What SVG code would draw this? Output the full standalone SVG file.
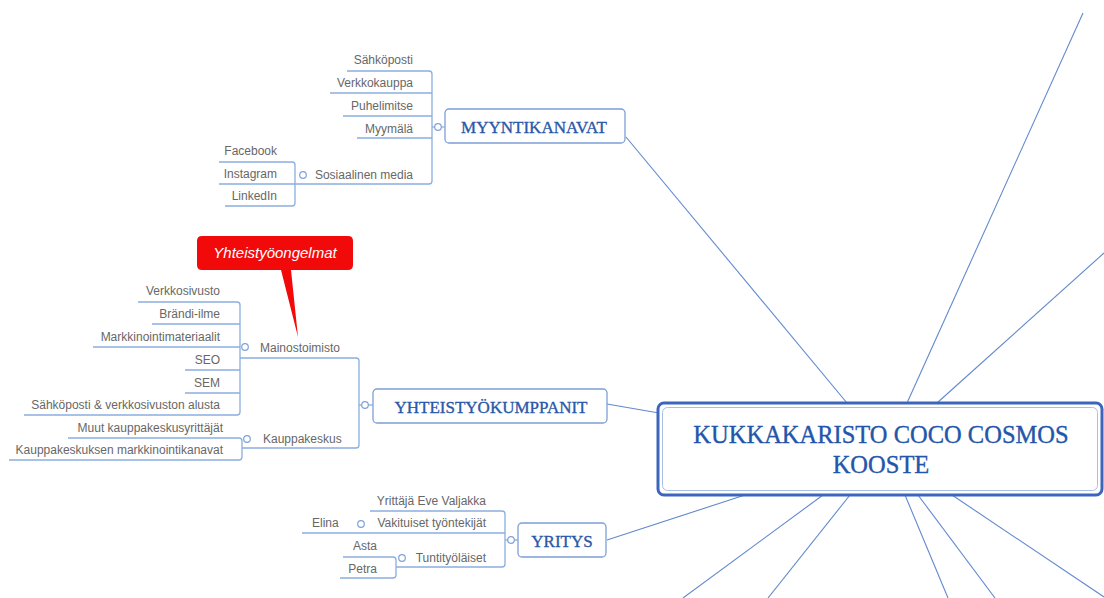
<svg xmlns="http://www.w3.org/2000/svg" width="1104" height="598" viewBox="0 0 1104 598">
  <style>
    .spoke { stroke: #6189cf; stroke-width: 1.1; fill: none; }
    .br { stroke: #8aaede; stroke-width: 1.3; fill: none; }
    .dot { stroke: #7fa2d8; stroke-width: 1.2; fill: #fff; }
    .leaf { font-family: "Liberation Sans", Arial, sans-serif; font-size: 12px; fill: #676767; text-anchor: end; }
    .leafL { font-family: "Liberation Sans", Arial, sans-serif; font-size: 12px; fill: #676767; }
    .topic { fill: #fff; stroke: #7d9fd6; stroke-width: 1.3; }
    .ttl { font-family: "Liberation Serif", "Times New Roman", serif; font-size: 17px; fill: #2a58a8; text-anchor: middle; stroke: #2a58a8; stroke-width: 0.35; }
  </style>
  <rect width="1104" height="598" fill="#fff"/>

  <!-- spokes from the central topic -->
  <g id="connectors">
    <line class="spoke" x1="626" y1="137" x2="847" y2="403"/>
    <line class="spoke" x1="907" y1="403" x2="1083" y2="13"/>
    <line class="spoke" x1="937" y1="403" x2="1104" y2="253"/>
    <line class="spoke" x1="607" y1="404" x2="659" y2="413"/>
    <line class="spoke" x1="607" y1="540" x2="745" y2="495"/>
    <line class="spoke" x1="823" y1="495" x2="683" y2="598"/>
    <line class="spoke" x1="850" y1="495" x2="768" y2="598"/>
    <line class="spoke" x1="905" y1="495" x2="948" y2="598"/>
    <line class="spoke" x1="918" y1="495" x2="995" y2="598"/>
    <line class="spoke" x1="952" y1="495" x2="1104" y2="597"/>
  </g>

  <!-- central topic -->
  <g id="central">
    <rect x="658" y="403" width="444" height="92" rx="6" fill="#fff" stroke="#3c66bb" stroke-width="3"/>
    <rect x="662.5" y="407.5" width="435" height="83" rx="5" fill="none" stroke="#a9c0e6" stroke-width="1"/>
    <text x="881" y="443" font-family="Liberation Serif, Times New Roman, serif" font-size="24.5" fill="#2356aa" stroke="#2356aa" stroke-width="0.35" text-anchor="middle">KUKKAKARISTO COCO COSMOS</text>
    <text x="881" y="473" font-family="Liberation Serif, Times New Roman, serif" font-size="24.5" fill="#2356aa" stroke="#2356aa" stroke-width="0.35" text-anchor="middle">KOOSTE</text>
  </g>

  <!-- MYYNTIKANAVAT branch -->
  <g id="myyntikanavat">
    <rect class="topic" x="445" y="109" width="180" height="34" rx="4"/>
    <text class="ttl" x="534" y="132.5">MYYNTIKANAVAT</text>
    <path class="br" d="M347 71 H429 Q432 71 432 74 V181 Q432 184 429 184 H219"/>
    <line class="br" x1="330" y1="93" x2="432" y2="93"/>
    <line class="br" x1="343" y1="116" x2="432" y2="116"/>
    <line class="br" x1="357" y1="138" x2="432" y2="138"/>
    <line class="br" x1="432" y1="127" x2="445" y2="127"/>
    <circle class="dot" cx="438" cy="127" r="3.3"/>
    <text class="leaf" x="413" y="64">Sähköposti</text>
    <text class="leaf" x="413" y="87">Verkkokauppa</text>
    <text class="leaf" x="413" y="110">Puhelimitse</text>
    <text class="leaf" x="413" y="133">Myymälä</text>
    <text class="leaf" x="413" y="179">Sosiaalinen media</text>
    <path class="br" d="M219 162 H292 Q295 162 295 165 V203 Q295 206 292 206 H225"/>
    <circle class="dot" cx="303" cy="175" r="3.3"/>
    <text class="leaf" x="277" y="155">Facebook</text>
    <text class="leaf" x="277" y="178">Instagram</text>
    <text class="leaf" x="277" y="200">LinkedIn</text>
  </g>

  <!-- callout on Mainostoimisto -->
  <g id="callout">
    <path d="M202 236 H348 Q353 236 353 241 V265 Q353 270 348 270 H291 L298 337 L281 270 H202 Q197 270 197 265 V241 Q197 236 202 236 Z" fill="#f20a0a"/>
    <text x="275" y="258" font-family="Liberation Sans, Arial, sans-serif" font-size="15" font-style="italic" fill="#fff" text-anchor="middle">Yhteistyöongelmat</text>
  </g>

  <!-- YHTEISTYÖKUMPPANIT branch -->
  <g id="yhteistyokumppanit">
    <rect class="topic" x="373" y="389" width="234" height="34" rx="4"/>
    <text class="ttl" x="491" y="412.5">YHTEISTYÖKUMPPANIT</text>
    <path class="br" d="M240 358 H356 Q359 358 359 361 V445 Q359 448 356 448 H242"/>
    <line class="br" x1="359" y1="405" x2="373" y2="405"/>
    <circle class="dot" cx="365" cy="405" r="3.3"/>
    <text class="leafL" x="260" y="352">Mainostoimisto</text>
    <circle class="dot" cx="245" cy="347" r="3.3"/>
    <path class="br" d="M138 302 H237 Q240 302 240 305 V412 Q240 415 237 415 H24"/>
    <line class="br" x1="152" y1="324" x2="240" y2="324"/>
    <line class="br" x1="93" y1="347" x2="240" y2="347"/>
    <line class="br" x1="185" y1="370" x2="240" y2="370"/>
    <line class="br" x1="185" y1="393" x2="240" y2="393"/>
    <text class="leaf" x="220" y="295">Verkkosivusto</text>
    <text class="leaf" x="220" y="318">Brändi-ilme</text>
    <text class="leaf" x="220" y="341">Markkinointimateriaalit</text>
    <text class="leaf" x="220" y="364">SEO</text>
    <text class="leaf" x="220" y="387">SEM</text>
    <text class="leaf" x="220" y="409">Sähköposti &amp; verkkosivuston alusta</text>
    <text class="leafL" x="263" y="443">Kauppakeskus</text>
    <circle class="dot" cx="247" cy="439" r="3.3"/>
    <path class="br" d="M68 438 H239 Q242 438 242 441 V457 Q242 460 239 460 H9"/>
    <text class="leaf" x="223" y="432">Muut kauppakeskusyrittäjät</text>
    <text class="leaf" x="223" y="454">Kauppakeskuksen markkinointikanavat</text>
  </g>

  <!-- YRITYS branch -->
  <g id="yritys">
    <rect class="topic" x="518" y="523" width="88" height="34" rx="4"/>
    <text class="ttl" x="562" y="546.5">YRITYS</text>
    <path class="br" d="M370 511 H502 Q505 511 505 514 V564 Q505 567 502 567 H396"/>
    <line class="br" x1="302" y1="533" x2="505" y2="533"/>
    <line class="br" x1="505" y1="540" x2="518" y2="540"/>
    <circle class="dot" cx="511" cy="540" r="3.3"/>
    <text class="leaf" x="486" y="505">Yrittäjä Eve Valjakka</text>
    <text class="leaf" x="486" y="527">Vakituiset työntekijät</text>
    <circle class="dot" cx="361" cy="524" r="3.3"/>
    <text class="leafL" x="312" y="527">Elina</text>
    <text class="leaf" x="486" y="562">Tuntityöläiset</text>
    <circle class="dot" cx="402" cy="558" r="3.3"/>
    <path class="br" d="M343 557 H393 Q396 557 396 560 V575 Q396 578 393 578 H340"/>
    <text class="leaf" x="377" y="550">Asta</text>
    <text class="leaf" x="377" y="573">Petra</text>
  </g>
</svg>
